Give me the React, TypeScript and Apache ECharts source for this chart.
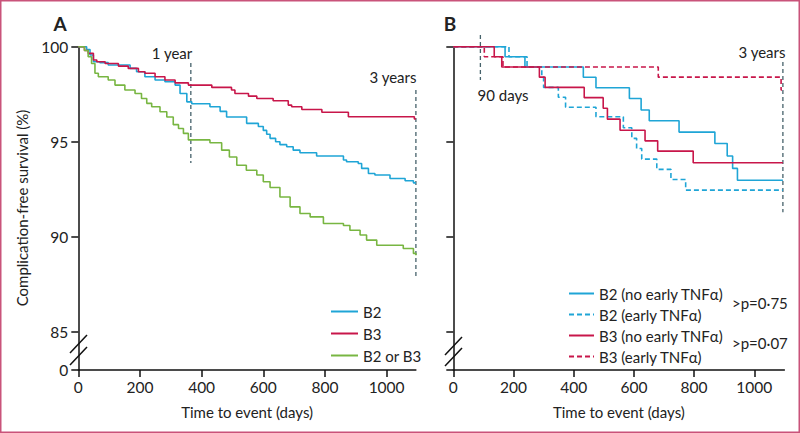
import React, { useEffect, useRef } from "react";
import * as echarts from "echarts";

// ---- data (time in days, survival %) ----
const xTickValues = [0, 200, 400, 600, 800, 1000];
const yTickValues = [83, 85, 90, 95, 100]; // 83 = broken-axis "0"
const BREAK_VALUE = 83;

const aB2: number[][] = [
  [0, 100], [27, 99.85], [38, 99.56], [49, 99.21], [70, 99.16], [97, 99.04], [168, 98.86],
  [189, 98.68], [216, 98.42], [249, 98.25], [281, 98.16], [314, 97.98], [330, 97.54],
  [352, 97.1], [368, 97.0], [427, 96.84], [460, 96.6], [481, 96.3], [546, 95.97], [584, 95.8],
  [600, 95.6], [611, 95.4], [622, 95.18], [640, 95.0], [654, 94.85], [676, 94.74],
  [697, 94.56], [719, 94.42], [773, 94.25], [860, 94.04], [870, 93.95], [908, 93.86],
  [919, 93.6], [941, 93.33], [962, 93.25], [1011, 93.07], [1060, 92.95], [1087, 92.84], [1095, 92.84],
];
const aB3: number[][] = [
  [0, 100], [20, 99.8], [32, 99.65], [49, 99.3], [60, 99.21], [87, 99.12], [130, 98.98],
  [162, 98.86], [195, 98.68], [216, 98.6], [249, 98.42], [281, 98.25], [314, 98.1],
  [357, 97.98], [433, 97.86], [497, 97.72], [508, 97.54], [552, 97.4], [579, 97.28],
  [632, 97.16], [681, 96.93], [692, 96.84], [725, 96.7], [790, 96.55], [876, 96.32],
  [1090, 96.2], [1095, 96.2],
];
const aB2orB3: number[][] = [
  [0, 100], [20, 99.8], [32, 99.47], [43, 99.12], [54, 98.6], [65, 98.42], [97, 98.25],
  [119, 97.98], [151, 97.72], [184, 97.54], [205, 97.28], [222, 97.02], [238, 96.84],
  [265, 96.58], [287, 96.3], [308, 95.9], [325, 95.7], [341, 95.44], [357, 95.1],
  [427, 94.95], [465, 94.56], [490, 94.2], [514, 93.77], [545, 93.5], [579, 93.25],
  [600, 92.9], [622, 92.6], [654, 92.1], [687, 91.58], [719, 91.23], [752, 91.05],
  [795, 90.7], [860, 90.6], [881, 90.35], [914, 90.1], [935, 89.83], [968, 89.56],
  [1054, 89.39], [1087, 89.13], [1095, 89.04],
];

const bB2NoEarly: number[][] = [
  [0, 100], [172, 99.47], [238, 98.93], [432, 98.39], [474, 97.84], [585, 97.28],
  [624, 96.67], [651, 96.11], [750, 95.51], [869, 94.91], [910, 94.25], [928, 93.6],
  [944, 92.98], [1095, 92.98],
];
const bB2Early: number[][] = [
  [0, 100], [185, 99.47], [245, 98.93], [294, 98.4], [300, 97.86], [349, 97.34],
  [373, 96.82], [474, 96.32], [565, 95.74], [593, 95.18], [609, 94.65], [626, 94.09],
  [676, 93.55], [723, 93.02], [772, 92.46], [1095, 92.46],
];
const bB3NoEarly: number[][] = [
  [0, 100], [136, 99.47], [161, 98.93], [286, 98.4], [305, 97.86], [435, 97.32],
  [498, 96.76], [512, 96.19], [554, 95.61], [637, 95.05], [679, 94.51], [797, 93.9],
  [1095, 93.9],
];
const bB3Early: number[][] = [
  [0, 100], [103, 99.47], [165, 98.93], [681, 98.4], [1089, 97.72], [1092, 97.72],
];

// reference lines
const oneYear: number[][] = [[365, 99.14], [365, 93.88]];
const threeYearsA: number[][] = [[1095, 97.72], [1095, 87.9]];
const ninetyDays: number[][] = [[90, 100.62], [90, 98.25]];
const threeYearsB: number[][] = [[1095, 99.2], [1095, 91.3]];

const BLUE = "#1fa5d6";
const RED = "#c8164a";
const GREEN = "#78b642";
const REF = "#46626b";
const TEXT = "#222";
const FONT = "Lato";
const FS = 15;

export default function App() {
  const ref = useRef<HTMLDivElement>(null);
  useEffect(() => {
    if (!ref.current) return;
    const chart = echarts.init(ref.current, null, { renderer: "svg" });

    const xAxisBase = (gridIndex: number, max: number) => ({
      type: "value",
      gridIndex,
      min: 0,
      max,
      name: "Time to event (days)",
      nameLocation: "middle",
      nameGap: 34,
      nameTextStyle: { fontFamily: FONT, fontSize: FS, color: TEXT },
      axisLine: { show: true, onZero: false, lineStyle: { color: "#111", width: 1.5 } },
      axisTick: { show: true, length: 7, lineStyle: { color: "#111", width: 1.5 }, customValues: xTickValues },
      axisLabel: {
        fontFamily: FONT, fontSize: 15.5, color: TEXT, margin: 9, customValues: xTickValues,
        formatter: (v: number) => String(v),
      },
      splitLine: { show: false },
    });
    const yAxisBase = (gridIndex: number, showLabels: boolean) => ({
      type: "value",
      gridIndex,
      min: BREAK_VALUE,
      max: 100,
      axisLine: { show: true, onZero: false, lineStyle: { color: "#111", width: 1.5 } },
      axisTick: { show: true, length: 7, lineStyle: { color: "#111", width: 1.5 }, customValues: yTickValues },
      axisLabel: {
        show: showLabels,
        fontFamily: FONT,
        fontSize: 15.5,
        color: TEXT,
        margin: 10,
        customValues: yTickValues,
        formatter: (v: number) => (v === BREAK_VALUE ? "0" : String(v)),
      },
      splitLine: { show: false },
    });

    const curve = (name: string, data: number[][], color: string, idx: number, dashed = false) => ({
      name,
      type: "line",
      xAxisIndex: idx,
      yAxisIndex: idx,
      step: "end",
      symbol: "none",
      showSymbol: false,
      data,
      lineStyle: { color, width: 1.6, type: dashed ? [5, 3] : "solid" },
      itemStyle: { color },
      z: 3,
    });
    const refLine = (name: string, data: number[][], idx: number) => ({
      name,
      type: "line",
      xAxisIndex: idx,
      yAxisIndex: idx,
      symbol: "none",
      data,
      clip: false,
      lineStyle: { color: REF, width: 1.3, type: [4, 3] },
      z: 2,
      silent: true,
    });

    const txt = (x: number, y: number, text: string, extra: any = {}) => ({
      type: "text",
      x,
      y,
      style: { text, fill: TEXT, font: `${FS}px ${FONT}`, align: "center", verticalAlign: "middle", ...extra },
    });

    const legendCommon = {
      orient: "vertical",
      itemHeight: 14,
      padding: 0,
      itemStyle: { opacity: 0 },
      textStyle: { fontFamily: FONT, fontSize: FS, color: TEXT },
    };

    chart.setOption({
      animation: false,
      backgroundColor: "#fff",
      grid: [
        { left: 78.3, top: 46.7, width: 337.6, height: 323.3 },
        { left: 453.3, top: 46.7, width: 331.1, height: 323.3 },
      ],
      xAxis: [xAxisBase(0, 1095), xAxisBase(1, 1100)],
      yAxis: [yAxisBase(0, true), yAxisBase(1, false)],
      legend: [
        {
          ...legendCommon,
          data: ["B2", "B3", "B2 or B3"],
          left: 330,
          top: 304,
          itemWidth: 27,
          itemGap: 7,
        },
        {
          ...legendCommon,
          data: ["B2 (no early TNFα)", "B2 (early TNFα)", "B3 (no early TNFα)", "B3 (early TNFα)"],
          left: 568,
          top: 286,
          itemWidth: 25,
          itemGap: 6,
        },
      ],
      series: [
        refLine("1 year", oneYear, 0),
        refLine("3 years A", threeYearsA, 0),
        refLine("90 days", ninetyDays, 1),
        refLine("3 years B", threeYearsB, 1),
        curve("B2", aB2, BLUE, 0),
        curve("B3", aB3, RED, 0),
        curve("B2 or B3", aB2orB3, GREEN, 0),
        curve("B2 (no early TNFα)", bB2NoEarly, BLUE, 1),
        curve("B2 (early TNFα)", bB2Early, BLUE, 1, true),
        curve("B3 (no early TNFα)", bB3NoEarly, RED, 1),
        curve("B3 (early TNFα)", bB3Early, RED, 1, true),
      ],
      graphic: [
        { type: "rect", shape: { x: 0.75, y: 0.75, width: 798.5, height: 431.5 }, style: { fill: "none", stroke: "#c9537a", lineWidth: 1.5 }, silent: true },
        txt(60, 23, "A", { font: `bold 19px ${FONT}` }),
        txt(450, 23, "B", { font: `bold 19px ${FONT}` }),
        txt(172, 53, "1 year"),
        txt(393, 77, "3 years"),
        txt(762, 52, "3 years"),
        txt(503, 95, "90 days"),
        txt(732, 303, ">p=0·75", { align: "left" }),
        txt(732, 343, ">p=0·07", { align: "left" }),
        { type: "text", x: 22, y: 208, rotation: Math.PI / 2, style: { text: "Complication-free survival (%)", fill: TEXT, font: `${FS}px ${FONT}`, align: "center", verticalAlign: "middle" } },
        // axis-break marks
        { type: "line", shape: { x1: 70, y1: 353, x2: 87, y2: 335 }, style: { stroke: "#111", lineWidth: 1.5 } },
        { type: "line", shape: { x1: 70, y1: 365, x2: 87, y2: 347 }, style: { stroke: "#111", lineWidth: 1.5 } },
        { type: "line", shape: { x1: 445, y1: 355, x2: 462, y2: 337 }, style: { stroke: "#111", lineWidth: 1.5 } },
        { type: "line", shape: { x1: 445, y1: 366, x2: 462, y2: 348 }, style: { stroke: "#111", lineWidth: 1.5 } },
      ],
    });
    return () => chart.dispose();
  }, []);
  return <div ref={ref} style={{ position: "fixed", left: 0, top: 0, width: 800, height: 433 }} />;
}
